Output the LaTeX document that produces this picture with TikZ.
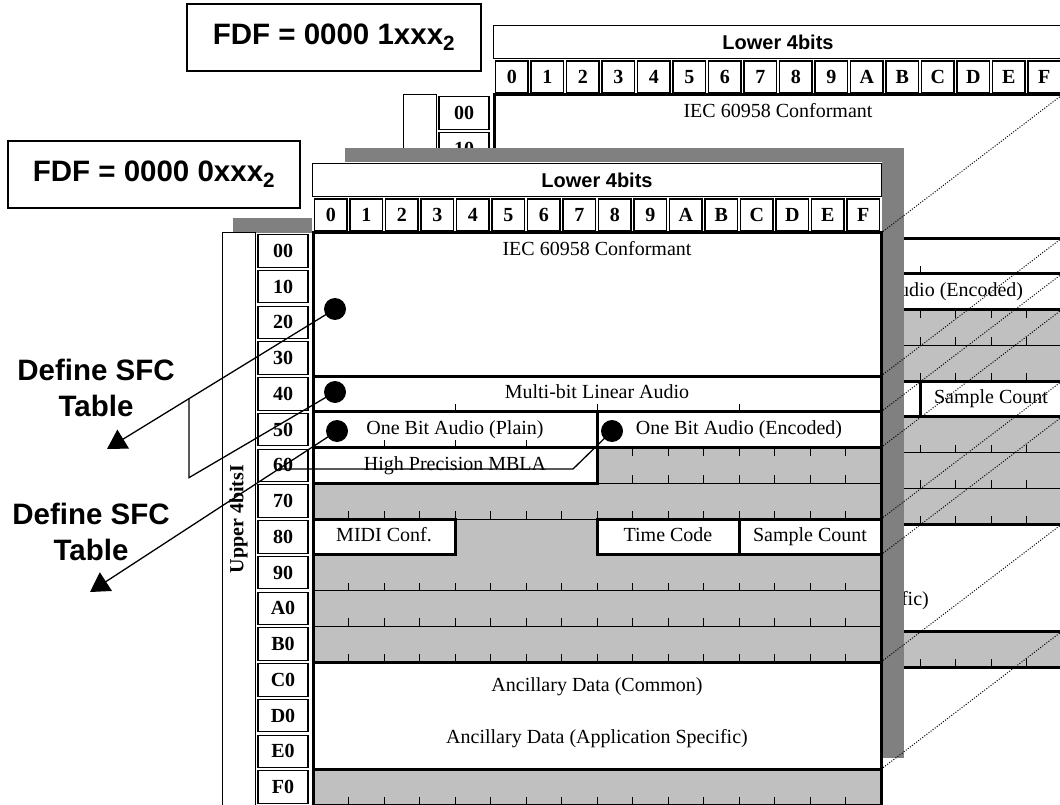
\documentclass[tikz,border=0pt]{standalone}
\usepackage{fontspec}
\setmainfont{Liberation Serif}
\newfontfamily\arialfont{Liberation Sans}
\usetikzlibrary{calc,arrows.meta}
\definecolor{shadowgray}{HTML}{808080}
\definecolor{cellgray}{HTML}{C0C0C0}

\def\colw{35.5}
\def\rowh{35.75}

\tikzset{
  hexcell/.style={draw=black, line width=1.1pt, fill=white, inner sep=0pt,
    font=\fontsize{20}{24}\selectfont\bfseries},
  headbox/.style={draw=black, line width=1.1pt, fill=white, inner sep=0pt,
    minimum width=569pt, minimum height=33pt,
    font=\arialfont\bfseries\fontsize{20}{24}\selectfont},
  upperbox/.style={draw=black, line width=1pt, fill=white, inner sep=0pt, rotate=90,
    minimum width=572pt, minimum height=33pt,
    font=\fontsize{20}{24}\selectfont\bfseries},
  areacell/.style={draw=black, line width=3pt, fill=white},
  celltext/.style={inner sep=0pt, text height=14pt, text depth=4pt,
    font=\fontsize{20}{24}\selectfont},
  tickline/.style={draw=black, line width=1pt},
  bigtext/.style={align=center, inner sep=0pt,
    font=\arialfont\bfseries\fontsize{29.5}{36}\selectfont},
  fdfbox/.style={bigtext, draw=black, line width=1.4pt, fill=white, minimum height=67pt},
  dotmark/.style={circle, fill=black, minimum size=22pt, inner sep=0pt},
  pointer/.style={draw=black, line width=1.3pt},
  perspective/.style={draw=black, line width=1pt, dash pattern=on 1pt off 1.6pt}
}

\newcommand{\sfcmap}[1]{%
  \fill[white] (-1,-71) rectangle (569,0);
  \fill[white] (-92,0) rectangle (0,572);
  \node[headbox] (#1-lower) at (284,-53) {Lower 4bits};
  \foreach \collab [count=\j from 0] in {0,1,2,3,4,5,6,7,8,9,A,B,C,D,E,F}
    \node[hexcell, minimum width=32.5pt, minimum height=32pt] (#1-col\j)
      at ({(\j+0.5)*\colw},-18) {\collab};
  \node[upperbox] (#1-upper) at (-74.5,286) {Upper 4bitsI};
  \foreach \rowlab [count=\i from 0] in {00,10,20,30,40,50,60,70,80,90,A0,B0,C0,D0,E0,F0}
    \node[hexcell, minimum width=50pt, minimum height=32.5pt] (#1-row\i)
      at (-30,{(\i+0.5)*\rowh}) {\rowlab};
  \fill[cellgray] (0,0) rectangle (568,572);
  \foreach \i in {7,8,10,11,12,16} {
    \draw[tickline] (0,{\i*\rowh}) -- (568,{\i*\rowh});
    \foreach \j in {1,...,15}
      \draw[tickline] ({\j*\colw},{\i*\rowh}) -- ++(0,-8);
  }
  \foreach \j in {9,...,15}
    \draw[tickline] ({\j*\colw},{6*\rowh}) -- ++(0,8);
  \draw[areacell] (0,0) rectangle ({16*\colw},{4*\rowh});
  \draw[areacell] (0,{4*\rowh}) rectangle ({16*\colw},{5*\rowh});
  \draw[areacell] (0,{5*\rowh}) rectangle ({8*\colw},{6*\rowh});
  \draw[areacell] ({8*\colw},{5*\rowh}) rectangle ({16*\colw},{6*\rowh});
  \draw[areacell] (0,{6*\rowh}) rectangle ({8*\colw},{7*\rowh});
  \draw[areacell] (0,{8*\rowh}) rectangle ({4*\colw},{9*\rowh});
  \draw[areacell] ({8*\colw},{8*\rowh}) rectangle ({12*\colw},{9*\rowh});
  \draw[areacell] ({12*\colw},{8*\rowh}) rectangle ({16*\colw},{9*\rowh});
  \draw[areacell] (0,{12*\rowh}) rectangle ({16*\colw},{15*\rowh});
  \foreach \a/\b in {5/4,5/8,5/12,6/2,6/4,6/6}
    \draw[tickline] ({\b*\colw},{\a*\rowh}) -- ++(0,-8);
  \draw[line width=3pt] (0,0) rectangle (568,572);
  \node[celltext] (#1-iec) at (284,{0.5*\rowh}) {IEC 60958 Conformant};
  \node[celltext] (#1-mbla) at (284,{4.5*\rowh}) {Multi-bit Linear Audio};
  \node[celltext] (#1-plain) at ({4*\colw},{5.5*\rowh}) {One Bit Audio (Plain)};
  \node[celltext] (#1-enc) at ({12*\colw},{5.5*\rowh}) {One Bit Audio (Encoded)};
  \node[celltext] (#1-hpmbla) at ({4*\colw},{6.5*\rowh}) {High Precision MBLA};
  \node[celltext] (#1-midi) at ({2*\colw},{8.5*\rowh}) {MIDI Conf.};
  \node[celltext] (#1-time) at ({10*\colw},{8.5*\rowh}) {Time Code};
  \node[celltext] (#1-count) at ({14*\colw},{8.5*\rowh}) {Sample Count};
  \node[celltext] (#1-anccom) at (284,453) {Ancillary Data (Common)};
  \node[celltext] (#1-ancapp) at (284,505) {Ancillary Data (Application Specific)};
  \foreach \k in {0,4,5,6,8,9,12,15}
    \coordinate (#1-e\k) at (568,{\k*\rowh});
}

\begin{document}
\begin{tikzpicture}[x=1pt,y=-1pt]
  \useasboundingbox (0,0) rectangle (1060,805);

  \node[fdfbox, minimum width=294pt] (fdf1) at (334,37.5) {FDF = 0000 1xxx\textsubscript{2}};

  \begin{scope}[shift={(494,95)}]
    \sfcmap{b}
  \end{scope}

  \fill[shadowgray] (345,148) rectangle (904,758);
  \fill[shadowgray] (233,218) rectangle (330,240);

  \node[fdfbox, minimum width=292pt] (fdf0) at (154,174.5) {FDF = 0000 0xxx\textsubscript{2}};

  \begin{scope}[shift={(313,233)}]
    \sfcmap{f}
  \end{scope}

  \foreach \k in {0,4,5,6,8,9,12,15}
    \draw[perspective] (f-e\k) -- (b-e\k);

  \node[dotmark] (d1) at (335,309) {};
  \node[dotmark] (d2) at (335,392) {};
  \node[dotmark] (d3) at (337,431) {};
  \node[dotmark] (d4) at (612,431) {};

  \coordinate (tip1) at (107,449);
  \coordinate (tip2) at (90,592);
  \coordinate (j1) at ($(d1.center)!0.64!(tip1)$);
  \coordinate (j2) at ($(d3.center)!0.236!(tip2)$);
  \coordinate (k2) at ($(j1)+(0,79)$);
  \coordinate (k4) at (573,469);

  \draw[pointer, -{Triangle[length=19pt,width=22pt]}] (d1.center) -- (tip1);
  \draw[pointer, -{Triangle[length=19pt,width=22pt]}] (d3.center) -- (tip2);
  \draw[pointer] (d2.center) -- (k2) -- (j1);
  \draw[pointer] (d4.center) -- (k4) -- (j2);

  \node[bigtext] (sfc1) at (96,388) {Define SFC\\Table};
  \node[bigtext] (sfc2) at (91,532) {Define SFC\\Table};
\end{tikzpicture}
\end{document}
